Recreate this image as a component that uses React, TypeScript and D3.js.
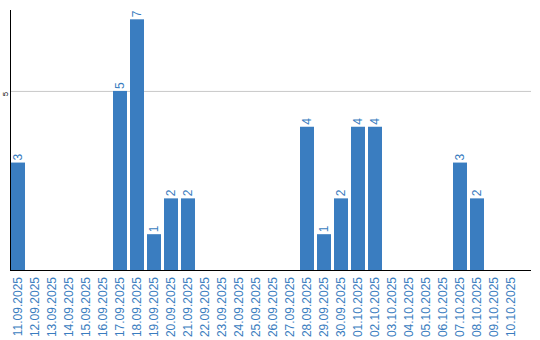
import React from "react";
import * as d3 from "d3";

const dates = [
  "11.09.2025","12.09.2025","13.09.2025","14.09.2025","15.09.2025","16.09.2025",
  "17.09.2025","18.09.2025","19.09.2025","20.09.2025","21.09.2025","22.09.2025",
  "23.09.2025","24.09.2025","25.09.2025","26.09.2025","27.09.2025","28.09.2025",
  "29.09.2025","30.09.2025","01.10.2025","02.10.2025","03.10.2025","04.10.2025",
  "05.10.2025","06.10.2025","07.10.2025","08.10.2025","09.10.2025","10.10.2025",
];
const counts = [3,0,0,0,0,0,5,7,1,2,2,0,0,0,0,0,0,4,1,2,4,4,0,0,0,0,3,2,0,0];
const yTicks = [5];

const W = 540, H = 340;
const BLUE = "#3a7dc0";
const FONT = "'Liberation Sans', Arial, sans-serif";

export default function App() {
  const x = d3.scaleBand<string>().domain(dates).range([11, 518]).paddingInner(3 / 17).paddingOuter(0).align(0);
  const y = d3.scaleLinear().domain([0, 7.26]).range([270, 10]);
  return (
    <svg width={W} height={H} style={{ position: "absolute", left: 0, top: 0 }}>
      <rect x={0} y={0} width={W} height={H} fill="#fff" />
      {yTicks.map((t) => (
        <g key={t}>
          <line x1={11} x2={531} y1={y(t) + 0.5} y2={y(t) + 0.5} stroke="#c8c8c8" strokeWidth={1} />
          <text transform={`translate(7.5,${y(t) + 3}) rotate(-90)`} textAnchor="middle" fontFamily={FONT} fontSize={8} fill="#000">{t}</text>
        </g>
      ))}
      {dates.map((d, i) =>
        counts[i] > 0 ? (
          <g key={d}>
            <rect x={x(d)} y={y(counts[i])} width={x.bandwidth()} height={y(0) - y(counts[i])} fill={BLUE} />
            <text transform={`translate(${(x(d) as number) + x.bandwidth() / 2 + 4},${y(counts[i]) - 2}) rotate(-90)`} textAnchor="start" fontFamily={FONT} fontSize={12} fill={BLUE}>{counts[i]}</text>
          </g>
        ) : null
      )}
      <line x1={10.5} x2={10.5} y1={10} y2={270} stroke="#000" strokeWidth={1} />
      <line x1={10} x2={531} y1={270.5} y2={270.5} stroke="#000" strokeWidth={1} />
      {dates.map((d) => (
        <text key={d} transform={`translate(${(x(d) as number) + x.bandwidth() / 2 + 4},277) rotate(-90)`} textAnchor="end" fontFamily={FONT} fontSize={12} fill={BLUE}>{d}</text>
      ))}
    </svg>
  );
}
